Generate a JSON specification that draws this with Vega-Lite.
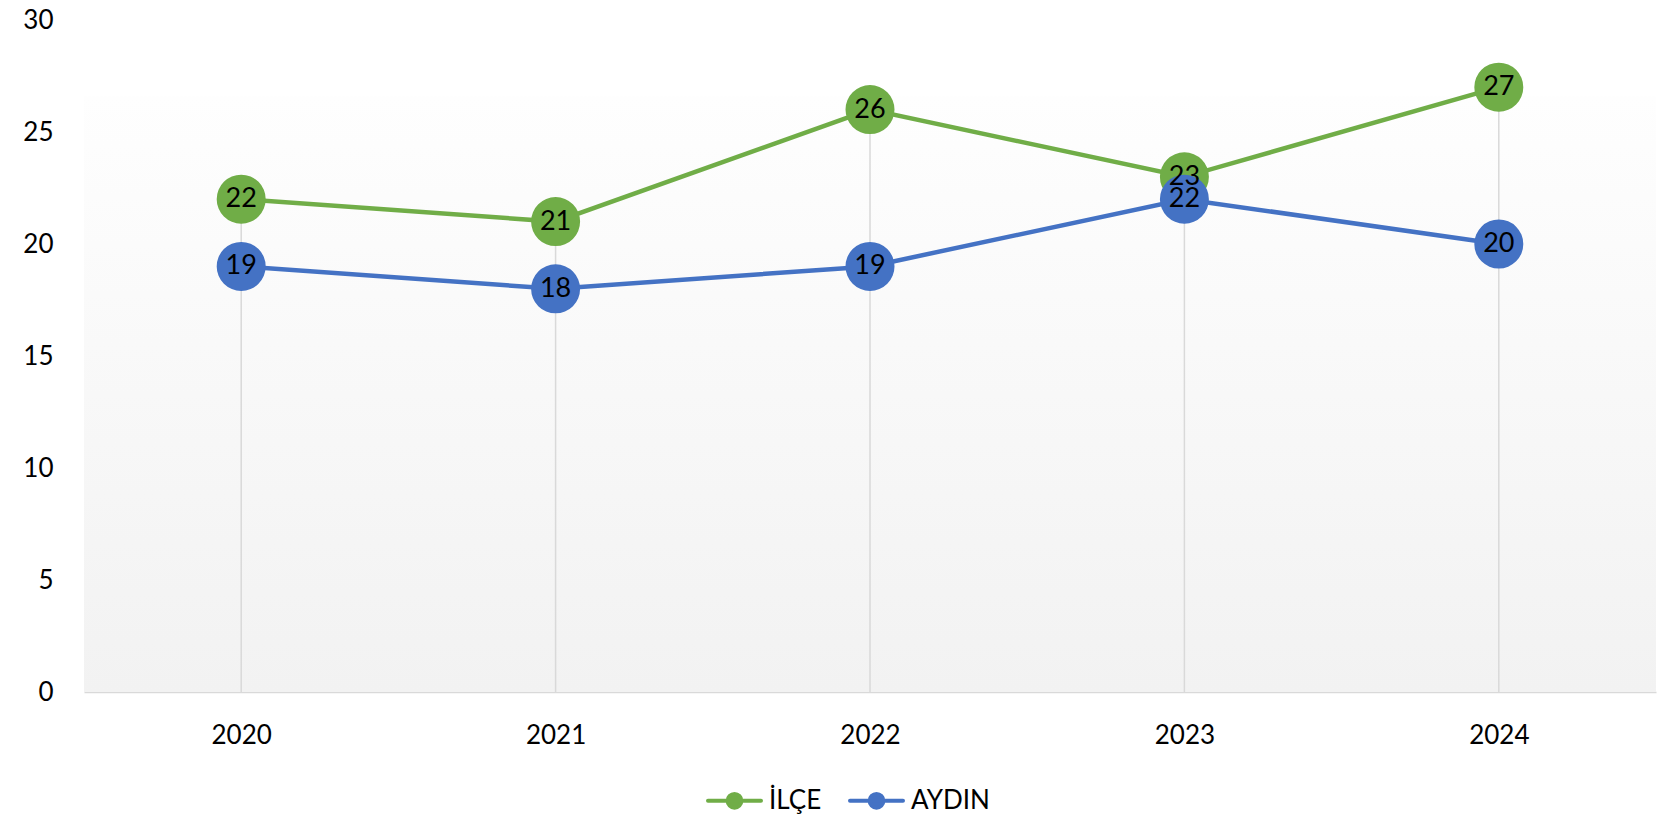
{
  "$schema": "https://vega.github.io/schema/vega-lite/v6.json",
  "width": 1572,
  "height": 672,
  "autosize": {"type": "none"},
  "padding": {"left": 84, "top": 20, "right": 10, "bottom": 129},
  "background": "white",
  "config": {
    "view": {"stroke": null},
    "font": "Lato",
    "text": {"font": "Lato"}
  },
  "data": {
    "values": [
      {"year": "2020", "series": "İLÇE", "value": 22},
      {"year": "2021", "series": "İLÇE", "value": 21},
      {"year": "2022", "series": "İLÇE", "value": 26},
      {"year": "2023", "series": "İLÇE", "value": 23},
      {"year": "2024", "series": "İLÇE", "value": 27},
      {"year": "2020", "series": "AYDIN", "value": 19},
      {"year": "2021", "series": "AYDIN", "value": 18},
      {"year": "2022", "series": "AYDIN", "value": 19},
      {"year": "2023", "series": "AYDIN", "value": 22},
      {"year": "2024", "series": "AYDIN", "value": 20}
    ]
  },
  "encoding": {
    "x": {
      "field": "year", "type": "ordinal", "title": null,
      "scale": {"type": "point", "padding": 0.5},
      "axis": {
        "title": null, "labelAngle": 0, "labelFontSize": 26, "labelFont": "Lato",
        "labelColor": "#000000", "labelPadding": 30, "ticks": false,
        "domain": true, "domainColor": "#d9d9d9", "domainWidth": 1.5, "grid": false
      }
    },
    "y": {
      "field": "value", "type": "quantitative", "title": null,
      "scale": {"domain": [0, 30], "nice": false},
      "axis": {
        "title": null, "values": [0, 5, 10, 15, 20, 25, 30], "labelFontSize": 26,
        "labelFont": "Lato", "labelColor": "#000000", "labelPadding": 31,
        "ticks": false, "domain": false, "grid": false
      }
    }
  },
  "layer": [
    {
      "data": {"values": [{"top": 26.6, "bottom": 0}]},
      "mark": {
        "type": "rect",
        "fill": {
          "gradient": "linear",
          "x1": 0, "y1": 0, "x2": 0, "y2": 1,
          "stops": [
            {"offset": 0, "color": "#fefefe"},
            {"offset": 1, "color": "#f2f2f2"}
          ]
        }
      },
      "encoding": {
        "x": {"value": 0},
        "x2": {"value": "width"},
        "y": {"field": "top", "type": "quantitative", "title": null},
        "y2": {"field": "bottom"}
      }
    },
    {
      "transform": [
        {"aggregate": [{"op": "max", "field": "value", "as": "maxv"}], "groupby": ["year"]},
        {"calculate": "0", "as": "zero"}
      ],
      "mark": {"type": "rule", "color": "#d9d9d9", "strokeWidth": 1.5},
      "encoding": {
        "y": {"field": "maxv", "type": "quantitative", "title": null},
        "y2": {"field": "zero"}
      }
    },
    {
      "mark": {"type": "line", "strokeWidth": 4.5},
      "encoding": {
        "color": {
          "field": "series", "type": "nominal",
          "scale": {"domain": ["İLÇE", "AYDIN"], "range": ["#70AD47", "#4472C4"]},
          "legend": {
            "title": null, "orient": "none", "direction": "horizontal",
            "legendX": 622, "legendY": 752,
            "labelFontSize": 26, "labelFont": "Lato", "labelColor": "#000000",
            "symbolType": "M-1,0L1,0M-0.26,0A0.26,0.26,0,1,1,0.26,0A0.26,0.26,0,1,1,-0.26,0Z",
            "symbolSize": 2809, "symbolStrokeWidth": 4,
            "labelOffset": 6, "columnPadding": 20,
            "encode": {
              "symbols": {
                "update": {
                  "fill": {"scale": "color", "field": "value"},
                  "stroke": {"scale": "color", "field": "value"},
                  "strokeCap": {"value": "round"}
                }
              }
            }
          }
        },
        "order": {"field": "year"}
      }
    },
    {
      "mark": {"type": "point", "filled": true, "size": 2400, "opacity": 1},
      "encoding": {
        "color": {"field": "series", "type": "nominal", "scale": {"domain": ["İLÇE", "AYDIN"], "range": ["#70AD47", "#4472C4"]}}
      }
    },
    {
      "mark": {"type": "text", "fontSize": 27, "font": "Lato", "color": "#000000", "baseline": "middle", "align": "center"},
      "encoding": {
        "text": {"field": "value", "type": "quantitative"}
      }
    }
  ]
}
